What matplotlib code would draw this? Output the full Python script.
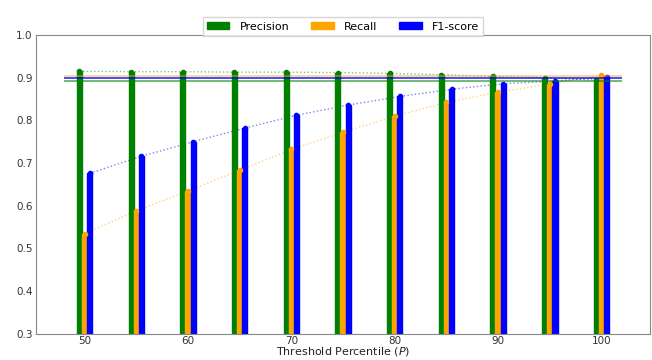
import numpy as np
import matplotlib
matplotlib.use("Agg")
import matplotlib.pyplot as plt

# Threshold percentiles and scores
percentiles = [50, 55, 60, 65, 70, 75, 80, 85, 90, 95, 100]
precision = [0.915, 0.914, 0.914, 0.913, 0.913, 0.912, 0.910, 0.907, 0.903, 0.900, 0.894]
recall = [0.535, 0.588, 0.635, 0.683, 0.732, 0.772, 0.810, 0.842, 0.866, 0.885, 0.906]
f1_score = [0.676, 0.716, 0.750, 0.782, 0.812, 0.836, 0.856, 0.873, 0.886, 0.892, 0.901]

# reference (horizontal) levels
baseline = {'Precision': 0.8925, 'Recall': 0.905, 'F1-score': 0.899}

series = [
    ('Precision', precision, 'green', -0.5),
    ('Recall', recall, 'orange', 0.0),
    ('F1-score', f1_score, 'blue', 0.5),
]

fig = plt.figure(figsize=(6.52, 3.6), dpi=100)
ax = fig.add_axes([0.0552, 0.0725, 0.9418, 0.8303])

x = np.array(percentiles, dtype=float)
width = 0.5

for name, vals, color, offset in series:
    xs = x + offset
    ax.bar(xs, vals, width=width, color=color, edgecolor=color,
           linewidth=1.0, label=name, zorder=2)
    ax.plot(xs, vals, 'o', color=color, markersize=3, zorder=3)
    ax.plot(xs, vals, ':', color=color, linewidth=1, alpha=0.5, zorder=1)

# horizontal reference lines
alphas = {'Precision': 0.7, 'Recall': 0.55, 'F1-score': 0.9}
for name, _, color, _ in series:
    ax.hlines(baseline[name], 48, 102, colors=color, linewidth=1.1,
              alpha=alphas[name], zorder=4)

ax.set_ylim(0.3, 1.0)
ax.set_xlim(45.3, 104.7)
ax.set_xticks([50, 60, 70, 80, 90, 100])
ax.set_yticks([0.3, 0.4, 0.5, 0.6, 0.7, 0.8, 0.9, 1.0])
ax.tick_params(axis='both', length=0, pad=2.5, labelsize=7.5, labelcolor='#333333')
ax.tick_params(axis='x', pad=1.5)
for spine in ax.spines.values():
    spine.set_color('#888888')

ax.set_xlabel("Threshold Percentile ($P$)", fontsize=8, color='#222222', va='baseline')
ax.xaxis.set_label_coords(0.5, -0.069)

ax.legend(loc='upper center', bbox_to_anchor=(0.5, 1.078), ncol=3, fontsize=8,
          frameon=True, columnspacing=2.0, handlelength=2.0, handleheight=0.6,
          handletextpad=0.9, borderpad=0.4, fancybox=False, edgecolor='#cccccc')

fig.savefig("out.png", dpi=100)
